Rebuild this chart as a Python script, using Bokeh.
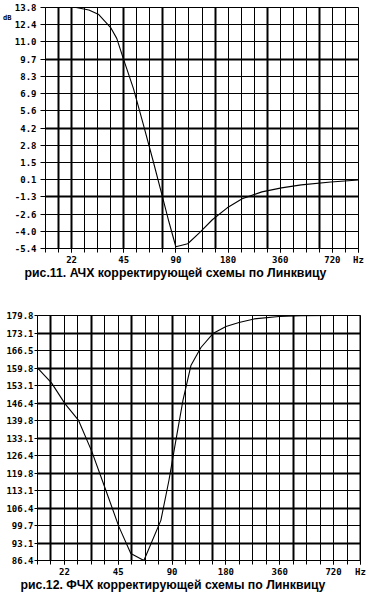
import math
from bokeh.plotting import figure
from bokeh.models import FixedTicker, Grid, Range1d, Title, LinearAxis
from bokeh.embed import file_html
from bokeh.resources import INLINE

# ---------------- data ----------------
freq_ticks = [22.5, 45, 90, 180, 360, 720]
freq_labels = ["22", "45", "90", "180", "360", "720"]

db_labels = ["13.8", "12.4", "11.0", "9.7", "8.3", "6.9", "5.6", "4.2",
             "2.8", "1.5", "0.1", "-1.3", "-2.6", "-4.0", "-5.4"]
deg_labels = ["179.8", "173.1", "166.5", "159.8", "153.1", "146.4", "139.8",
              "133.1", "126.4", "119.8", "113.1", "106.4", "99.7", "93.1", "86.4"]

amp_freq = [23.9, 28.3, 32.3, 37.8, 41.0, 44.9, 51.2, 58.3, 66.5, 75.8, 82.0,
            89.9, 105.3, 123.3, 146, 178, 217, 282, 366, 476, 706, 1018]
amp_db = [13.8, 13.6, 13.24, 12.2, 11.34, 9.67, 7.34, 4.51, 1.57, -1.44, -3.27,
          -5.26, -5.02, -4.14, -3.11, -2.16, -1.44, -0.89, -0.57, -0.33, -0.1, 0.06]

ph_freq = [15.9, 19.05, 22.7, 27.0, 32.0, 38.4, 45.3, 52.9, 62.6, 77.9, 86.4,
           94.5, 103.5, 114.7, 130.5, 152.3, 180.1, 213, 258.5, 356.8, 474, 697, 1018]
ph_deg = [159.8, 154.1, 146.1, 139.8, 128.0, 113.1, 99.4, 89.1, 86.4, 101.7, 116.9,
          132.2, 147.4, 160.7, 167.6, 172.9, 175.6, 177.1, 178.5, 179.4, 179.7, 179.8, 179.8]

caption1 = "рис.11. АЧХ корректирующей схемы по Линквицу"
caption2 = "рис.12. ФЧХ корректирующей схемы по Линквицу"
x_unit = "Hz"
y_unit = "dB"

# ---------------- helpers ----------------
F_LO = freq_ticks[0] / math.sqrt(2)
F_HI = freq_ticks[-1] * math.sqrt(2)
cells_x = [F_LO * 2 ** (k / 4) for k in range(25)]

TICK_FONT = "DejaVu Sans Mono"


def make_chart(labels, ydata, xdata, frame_left, frame_w, frame_top, frame_h,
               width, height, thick_cols, thick_rows, caption, title_standoff,
               title_offset, tick_out_y, standoff_y, unit_py):
    ymax = float(labels[0])
    ymin = float(labels[-1])
    n = len(labels)
    yt = [round(ymax - k * (ymax - ymin) / (n - 1), 9) for k in range(n)]
    p = figure(width=width, height=height, x_axis_type="log",
               x_range=Range1d(F_LO, F_HI), y_range=Range1d(ymin, ymax),
               output_backend="svg", toolbar_location=None,
               min_border_left=frame_left, min_border_right=width - frame_left - frame_w,
               min_border_top=frame_top,
               min_border_bottom=height - frame_top - frame_h)
    p.background_fill_color = "white"
    p.border_fill_color = "white"
    p.outline_line_color = "black"
    p.outline_line_width = 1

    # x axis
    xa = p.xaxis[0]
    xt = freq_ticks + [F_HI * 0.99999]
    xa.ticker = FixedTicker(ticks=xt, minor_ticks=cells_x)
    xa.major_label_overrides = {t: l for t, l in zip(xt, freq_labels + [x_unit])}
    xa.major_tick_out = 4
    xa.major_tick_in = 0
    xa.minor_tick_out = 4
    xa.minor_tick_in = 0
    xa.major_label_standoff = 2
    xa.major_label_text_font = TICK_FONT
    xa.major_label_text_font_style = "bold"
    xa.major_label_text_font_size = "9px"
    xa.major_label_text_color = "black"
    xa.axis_line_color = "black"
    xa.major_tick_line_color = "black"
    xa.minor_tick_line_color = "black"

    ya = p.yaxis[0]
    ya.ticker = FixedTicker(ticks=yt, minor_ticks=[])
    ya.major_label_overrides = {t: l for t, l in zip(yt, labels)}
    ya.major_tick_out = tick_out_y
    ya.major_tick_in = 0
    ya.major_label_standoff = standoff_y
    ya.major_label_text_font = TICK_FONT
    ya.major_label_text_font_style = "bold"
    ya.major_label_text_font_size = "9px"
    ya.major_label_text_color = "black"
    ya.axis_line_color = "black"
    ya.major_tick_line_color = "black"

    # grids
    p.xgrid.ticker = FixedTicker(ticks=cells_x)
    p.xgrid.grid_line_color = "black"
    p.xgrid.grid_line_width = 1
    p.ygrid.ticker = FixedTicker(ticks=yt)
    p.ygrid.grid_line_color = "black"
    p.ygrid.grid_line_width = 1
    p.add_layout(Grid(dimension=0, ticker=FixedTicker(ticks=[cells_x[i] for i in thick_cols]),
                      grid_line_color="black", grid_line_width=2))
    p.add_layout(Grid(dimension=1, ticker=FixedTicker(ticks=[yt[i] for i in thick_rows]),
                      grid_line_color="black", grid_line_width=2))

    p.line(xdata, ydata, line_color="black", line_width=1.1)

    if unit_py is not None:
        uy = ymax - (unit_py - frame_top) / frame_h * (ymax - ymin)
        ua = LinearAxis(ticker=FixedTicker(ticks=[uy], minor_ticks=[]),
                        major_label_overrides={uy: y_unit},
                        major_tick_out=0, major_tick_in=0, major_label_standoff=0,
                        axis_line_color=None, major_tick_line_color=None,
                        major_label_text_font=TICK_FONT,
                        major_label_text_font_style="bold",
                        major_label_text_font_size="7px",
                        major_label_text_color="black")
        p.add_layout(ua, "left")

    p.add_layout(Title(text=caption, align="left", offset=title_offset,
                       standoff=title_standoff,
                       text_font="Liberation Sans", text_font_style="bold",
                       text_font_size="12.3px", text_color="black"), "below")
    return p


p1 = make_chart(db_labels, amp_db, amp_freq, frame_left=41, frame_w=317,
                frame_top=7, frame_h=241, width=370, height=295,
                thick_cols=[1, 2, 6, 9, 13, 17, 21], thick_rows=[0, 3, 7, 11],
                caption=caption1, title_standoff=-7, title_offset=-21,
                tick_out_y=5, standoff_y=4, unit_py=17)
p2 = make_chart(deg_labels, ph_deg, ph_freq, frame_left=37, frame_w=323,
                frame_top=20, frame_h=245, width=370, height=305,
                thick_cols=[1, 4, 7, 10, 13, 19, 24], thick_rows=[0, 1, 3, 5, 7, 9, 11, 13],
                caption=caption2, title_standoff=-7, title_offset=-17,
                tick_out_y=3, standoff_y=1, unit_py=None)

open("out.html", "w").write(file_html((p1, p2), INLINE))
